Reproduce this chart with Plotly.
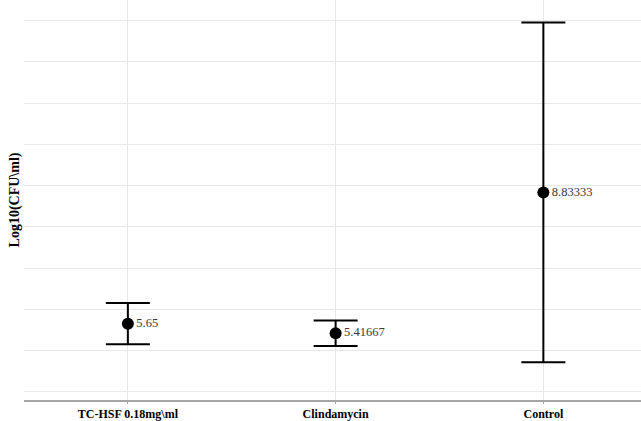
import plotly.graph_objects as go

categories = ["TC-HSF 0.18mg\\ml", "Clindamycin", "Control"]
means = [5.65, 5.41667, 8.83333]
errors = [0.5, 0.31, 4.12]
labels = ["5.65", "5.41667", "8.83333"]

fig = go.Figure()
fig.add_trace(go.Scatter(
    x=categories, y=means,
    mode="markers+text",
    marker=dict(color="black", size=12),
    error_y=dict(type="data", array=errors, visible=True, color="black", thickness=2, width=22),
    text=labels,
    textposition="middle right",
    textfont=dict(family="Liberation Serif", size=12.5, color="#3a3a3a"),
    showlegend=False,
))

fig.update_layout(
    width=641, height=421,
    margin=dict(l=24, r=0, t=0, b=21, autoexpand=False),
    plot_bgcolor="white", paper_bgcolor="white",
    font=dict(family="Liberation Serif", color="black"),
)
fig.update_xaxes(
    range=[-0.5, 2.47],
    showgrid=True, gridcolor="#e8e8e8", gridwidth=1,
    showline=True, linecolor="#a6a6a6", linewidth=2,
    ticks="outside", ticklen=2, tickcolor="#a6a6a6",
    tickfont=dict(family="Liberation Serif", size=12, color="black", weight="bold"),
    zeroline=False, automargin=False,
)
fig.update_yaxes(
    range=[3.8, 13.5],
    dtick=1, tick0=0,
    showgrid=True, gridcolor="#e8e8e8", gridwidth=1,
    showticklabels=False, zeroline=False, automargin=False,
    title=dict(text="<b>Log10(CFU\\ml)</b>", standoff=0,
               font=dict(family="Liberation Serif", size=14, color="black")),
)

fig.write_html("out.html", config={"displayModeBar": False},
               post_script="document.body.style.margin='0';document.body.style.overflow='hidden';")
